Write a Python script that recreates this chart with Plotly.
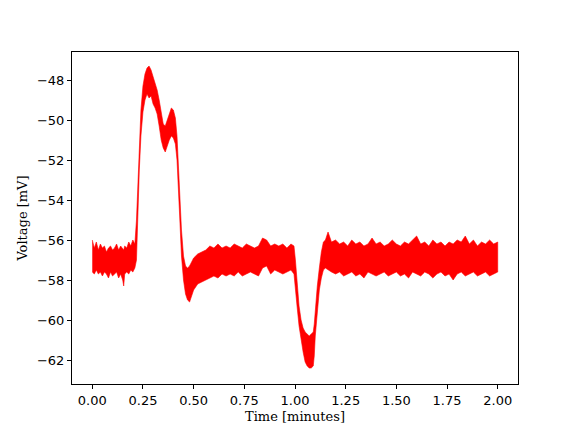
import plotly.graph_objects as go

# Envelope of the noisy voltage trace (time in minutes, mV)
time_min = [
    0.000, 0.010, 0.020, 0.030, 0.040, 0.050, 0.060, 0.070, 0.080, 0.090,
    0.100, 0.110, 0.120, 0.130, 0.140, 0.150, 0.155, 0.160, 0.170, 0.180,
    0.190, 0.200, 0.210,
    0.218, 0.225, 0.232, 0.240, 0.250, 0.260, 0.270, 0.280, 0.290, 0.300,
    0.310, 0.320, 0.330, 0.340, 0.350, 0.360, 0.370, 0.380, 0.390, 0.400,
    0.410, 0.418, 0.425, 0.432, 0.440, 0.450, 0.460, 0.470, 0.480, 0.490,
    0.500, 0.520, 0.540, 0.560, 0.580, 0.600, 0.620, 0.640, 0.660, 0.680,
    0.700, 0.720, 0.740, 0.760, 0.780, 0.800, 0.820, 0.840, 0.860, 0.880,
    0.900, 0.920, 0.940, 0.960, 0.980, 0.995,
    1.002, 1.010, 1.020, 1.030, 1.040, 1.050, 1.060, 1.070, 1.080, 1.090,
    1.095, 1.100, 1.110, 1.120, 1.130, 1.140, 1.150, 1.163, 1.180, 1.200,
    1.220, 1.240, 1.260, 1.280, 1.300, 1.320, 1.340, 1.360, 1.380, 1.400,
    1.420, 1.440, 1.460, 1.480, 1.500, 1.520, 1.540, 1.560, 1.580, 1.600,
    1.620, 1.640, 1.660, 1.680, 1.700, 1.720, 1.740, 1.760, 1.780, 1.800,
    1.820, 1.840, 1.860, 1.880, 1.900, 1.920, 1.940, 1.960, 1.980, 2.000,
]

voltage_upper = [
    -56.0, -56.4, -56.1, -56.5, -56.2, -56.4, -56.3, -56.6, -56.4, -56.3,
    -56.5, -56.4, -56.2, -56.5, -56.3, -56.4, -56.5, -56.3, -56.4, -56.1,
    -56.3, -56.0, -56.2,
    -55.0, -53.0, -51.0, -49.5, -48.3, -47.7, -47.4, -47.3, -47.5, -47.8,
    -48.2, -48.5, -49.0, -49.7, -50.2, -50.3, -50.0, -49.7, -49.4, -49.5,
    -49.9, -50.8, -52.0, -53.8, -55.5, -56.8, -57.3, -57.4, -57.3, -57.1,
    -56.9, -56.7, -56.6, -56.5, -56.3, -56.4, -56.2, -56.4, -56.3, -56.4,
    -56.2, -56.3, -56.4, -56.2, -56.3, -56.4, -56.3, -55.9, -56.0, -56.3,
    -56.2, -56.3, -56.2, -56.4, -56.2, -56.3,
    -57.0, -58.2, -59.3, -60.0, -60.4, -60.6, -60.7, -60.8, -60.7, -60.6,
    -60.2, -59.4, -58.3, -57.4, -56.6, -56.1, -56.0, -55.6, -56.1, -56.0,
    -56.2, -56.1, -56.3, -56.0, -56.2, -56.1, -56.3, -56.2, -55.9, -56.2,
    -56.1, -56.3, -56.2, -56.0, -56.2, -56.3, -56.1, -56.2, -56.0, -55.8,
    -56.2, -56.1, -56.3, -56.0, -56.2, -56.1, -56.3, -56.1, -56.2, -56.0,
    -56.1, -55.8, -56.2, -56.0, -56.3, -56.1, -56.2, -56.0, -56.2, -56.1,
]

voltage_lower = [
    -57.6, -57.7, -57.5, -57.7, -57.6, -57.8, -57.6, -57.7, -57.9, -57.6,
    -57.8, -57.7, -57.6, -57.9, -57.7, -58.0, -58.3, -57.7, -57.6, -57.7,
    -57.5, -57.6, -57.4,
    -57.0, -54.5, -52.5, -50.8, -49.6, -49.0, -48.7, -48.9, -48.8, -49.2,
    -49.4, -49.7, -50.3, -51.0, -51.4, -51.6, -51.3, -51.0, -50.8, -50.9,
    -51.2, -52.0, -53.2, -55.0, -56.8, -58.0, -58.7, -59.0, -59.1, -58.8,
    -58.5, -58.2, -58.1, -58.0, -57.9, -57.8, -57.9, -57.7, -57.8, -57.7,
    -57.8, -57.6, -57.8, -57.7, -57.6, -57.7, -57.8, -57.4, -57.3, -57.7,
    -57.5, -57.6, -57.7, -57.6, -57.5, -57.7,
    -58.5, -59.3, -60.3, -61.0, -61.6, -62.1, -62.3, -62.4, -62.4, -62.3,
    -61.8, -60.8, -59.5, -58.5, -57.9, -57.5, -57.4, -57.5, -57.6, -57.7,
    -57.6, -57.8, -57.7, -57.6, -57.8, -57.7, -57.9, -57.6, -57.7, -57.8,
    -57.7, -57.6, -57.8, -57.7, -57.6, -57.8, -57.7, -57.9, -57.6, -57.7,
    -57.8, -57.6, -57.7, -57.9, -57.7, -57.6, -57.8, -57.7, -58.0, -57.7,
    -57.6, -57.8, -57.7, -57.6, -57.8, -57.7, -57.6, -57.8, -57.7, -57.6,
]

x_ticks = [0.0, 0.25, 0.5, 0.75, 1.0, 1.25, 1.5, 1.75, 2.0]
y_ticks = [-62, -60, -58, -56, -54, -52, -50, -48]

poly_x = time_min + time_min[::-1]
poly_y = voltage_upper + voltage_lower[::-1]

fig = go.Figure()
fig.add_trace(go.Scatter(
    x=poly_x, y=poly_y, mode="lines", fill="toself",
    fillcolor="red", line=dict(color="red", width=0.6),
    showlegend=False, hoverinfo="skip",
))

axis_common = dict(
    showline=True, mirror=True, linecolor="black", linewidth=1,
    ticks="outside", ticklen=4, tickwidth=1, tickcolor="black",
    showgrid=False, zeroline=False, automargin=False,
    tickfont=dict(family="DejaVu Sans", size=13, color="black"),
)

# The page body has an 8px margin, so the figure is sized to fit the window
fig.update_layout(
    width=560, height=416,
    margin=dict(l=64, r=50, t=44, b=40),
    paper_bgcolor="white", plot_bgcolor="white",
    xaxis=dict(
        range=[-0.1, 2.1], tickvals=x_ticks, tickformat=".2f",
        title=dict(text="Time [minutes]", standoff=8,
                   font=dict(family="DejaVu Serif", size=13, color="black")),
        **axis_common,
    ),
    yaxis=dict(
        range=[-63.2, -46.6], tickvals=y_ticks,
        title=dict(text="Voltage [mV]", standoff=6,
                   font=dict(family="DejaVu Serif", size=13, color="black")),
        **axis_common,
    ),
)

fig.write_html("out.html")
